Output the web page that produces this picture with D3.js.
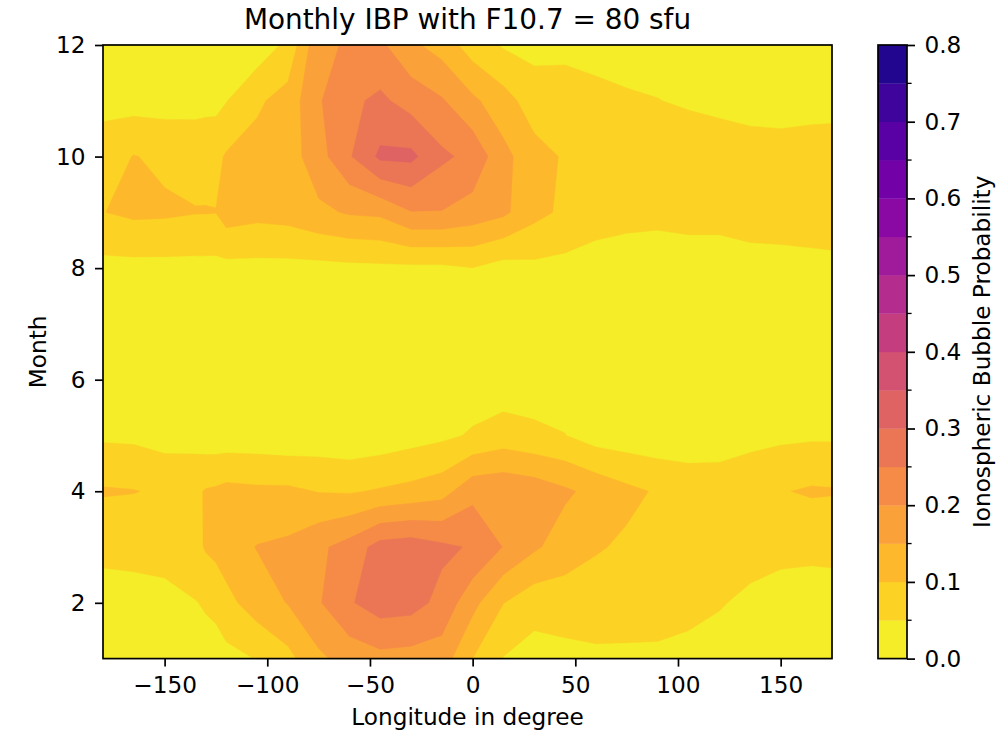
<!DOCTYPE html>
<html>
<head>
<meta charset="utf-8">
<script src="https://cdn.jsdelivr.net/npm/d3@7"></script>
<style>
  body { margin: 0; background: #fff; }
  text { font-family: "DejaVu Sans", sans-serif; fill: #000; }
</style>
</head>
<body>
<div id="chart"></div>
<script>
// grid: longitude columns (deg) and months (rows)
const lons = [-180, -165, -150, -135, -130, -125, -120, -105, -90, -75, -60, -45, -30, -15,
              0, 15, 30, 45, 60, 75, 90, 105, 120, 135, 150, 165, 175];
const months = [1, 2, 3, 4, 5, 6, 7, 8, 9, 10, 11, 12];

// bubble probability, one row per month, one value per longitude
const ibp = [
  [0.030, 0.028, 0.028, 0.028, 0.030, 0.030, 0.035, 0.052, 0.085, 0.140, 0.170, 0.185, 0.180, 0.175, 0.100, 0.048, 0.030, 0.035, 0.042, 0.042, 0.042, 0.040, 0.033, 0.032, 0.030, 0.030, 0.030],
  [0.040, 0.040, 0.042, 0.048, 0.055, 0.062, 0.085, 0.125, 0.152, 0.195, 0.245, 0.275, 0.270, 0.235, 0.165, 0.101, 0.070, 0.075, 0.072, 0.070, 0.068, 0.060, 0.053, 0.042, 0.038, 0.038, 0.040],
  [0.056, 0.058, 0.060, 0.085, 0.105, 0.115, 0.125, 0.152, 0.160, 0.190, 0.220, 0.270, 0.278, 0.260, 0.245, 0.198, 0.158, 0.125, 0.105, 0.092, 0.085, 0.075, 0.072, 0.065, 0.058, 0.056, 0.056],
  [0.105, 0.102, 0.092, 0.090, 0.104, 0.108, 0.115, 0.110, 0.110, 0.098, 0.095, 0.105, 0.115, 0.130, 0.185, 0.190, 0.180, 0.158, 0.135, 0.112, 0.095, 0.080, 0.080, 0.088, 0.097, 0.106, 0.104],
  [0.042, 0.040, 0.030, 0.030, 0.022, 0.020, 0.020, 0.020, 0.015, 0.020, 0.015, 0.020, 0.030, 0.040, 0.055, 0.072, 0.060, 0.051, 0.028, 0.022, 0.018, 0.020, 0.022, 0.033, 0.040, 0.043, 0.043],
  [0.028, 0.028, 0.026, 0.025, 0.025, 0.024, 0.024, 0.024, 0.022, 0.022, 0.022, 0.022, 0.022, 0.024, 0.025, 0.020, 0.025, 0.028, 0.024, 0.022, 0.020, 0.022, 0.024, 0.026, 0.028, 0.028, 0.028],
  [0.025, 0.025, 0.024, 0.024, 0.024, 0.024, 0.024, 0.024, 0.024, 0.024, 0.024, 0.024, 0.024, 0.024, 0.025, 0.025, 0.025, 0.025, 0.024, 0.022, 0.020, 0.020, 0.022, 0.024, 0.025, 0.025, 0.025],
  [0.035, 0.035, 0.035, 0.035, 0.035, 0.035, 0.035, 0.035, 0.035, 0.035, 0.038, 0.040, 0.040, 0.040, 0.049, 0.030, 0.038, 0.035, 0.025, 0.020, 0.018, 0.020, 0.020, 0.026, 0.028, 0.030, 0.030],
  [0.099, 0.110, 0.108, 0.102, 0.102, 0.101, 0.125, 0.115, 0.120, 0.140, 0.155, 0.160, 0.198, 0.198, 0.180, 0.160, 0.115, 0.090, 0.075, 0.068, 0.065, 0.070, 0.070, 0.078, 0.080, 0.085, 0.092],
  [0.075, 0.102, 0.090, 0.085, 0.086, 0.088, 0.105, 0.118, 0.125, 0.180, 0.245, 0.310, 0.312, 0.260, 0.235, 0.165, 0.118, 0.095, 0.085, 0.082, 0.078, 0.075, 0.072, 0.068, 0.068, 0.070, 0.072],
  [0.035, 0.030, 0.030, 0.032, 0.035, 0.035, 0.048, 0.092, 0.120, 0.195, 0.240, 0.260, 0.230, 0.205, 0.160, 0.120, 0.075, 0.068, 0.062, 0.056, 0.051, 0.045, 0.040, 0.035, 0.032, 0.035, 0.035],
  [0.030, 0.030, 0.020, 0.025, 0.025, 0.025, 0.025, 0.020, 0.061, 0.190, 0.205, 0.210, 0.160, 0.130, 0.075, 0.045, 0.035, 0.040, 0.035, 0.030, 0.032, 0.030, 0.027, 0.026, 0.027, 0.028, 0.030]
];

// contour levels and tick labels
const levels = d3.range(17).map(i => +(i * 0.05).toFixed(2));
const cbarTicks = [0, 0.1, 0.2, 0.3, 0.4, 0.5, 0.6, 0.7, 0.8];
const xTicks = [-150, -100, -50, 0, 50, 100, 150];
const yTicks = [2, 4, 6, 8, 10, 12];

//set variables
const w = 1004;
const h = 731;
const pl = 103, pr = 832, pt = 45, pb = 658.6;
const cbx = 878, cbw = 29;
const fs = '23.2px';
const tk = 8;            // tick length
const tp = 9.5;          // tick label pad

const svg = d3.select('#chart')
  .append('svg')
  .attr('width', w)
  .attr('height', h);

const xScale = d3.scaleLinear().domain([-180, 175]).range([pl, pr]);
const yScale = d3.scaleLinear().domain([1, 12]).range([pb, pt]);
const color = v => d3.interpolatePlasma(1 - v / 0.8);

// grid index -> lon / month (contour coords have grid points at i + 0.5)
const idxLon = d3.scaleLinear().domain(d3.range(lons.length)).range(lons).clamp(true);
const idxMonth = d3.scaleLinear().domain(d3.range(months.length)).range(months).clamp(true);

const proj = d3.geoTransform({
  point: function(x, y) {
    this.stream.point(xScale(idxLon(x - 0.5)), yScale(idxMonth(y - 0.5)));
  }
});
const path = d3.geoPath(proj);

const flat = ibp.flat();
const bands = d3.contours()
  .size([lons.length, months.length])
  .thresholds(levels.slice(0, -1))(flat);

//filled contours
svg.append('g')
  .selectAll('path')
  .data(bands)
  .join('path')
  .attr('d', path)
  .attr('fill', d => color(d.value + 0.025))
  .attr('stroke', d => color(d.value + 0.025))
  .attr('stroke-width', 0.4);

//axes
const xAxis = d3.axisBottom(xScale).tickValues(xTicks).tickSize(tk).tickPadding(tp);
const yAxis = d3.axisLeft(yScale).tickValues(yTicks).tickSize(tk).tickPadding(tp);

const gx = svg.append('g')
  .attr('transform', `translate(0,${pb})`)
  .call(xAxis);
const gy = svg.append('g')
  .attr('transform', `translate(${pl},0)`)
  .call(yAxis);
[gx, gy].forEach(g => {
  g.select('.domain').remove();
  g.selectAll('line').attr('stroke', '#000').attr('stroke-width', 1.7);
  g.selectAll('text').style('font-size', fs).style('font-family', '"DejaVu Sans", sans-serif');
});

//frame
svg.append('rect')
  .attr('x', pl).attr('y', pt)
  .attr('width', pr - pl).attr('height', pb - pt)
  .attr('fill', 'none').attr('stroke', '#000').attr('stroke-width', 1.7);

//title and labels
svg.append('text')
  .attr('x', (pl + pr) / 2)
  .attr('y', 29)
  .attr('text-anchor', 'middle')
  .style('font-size', '27.9px')
  .text('Monthly IBP with F10.7 = 80 sfu');

svg.append('text')
  .attr('x', (pl + pr) / 2)
  .attr('y', 725)
  .attr('text-anchor', 'middle')
  .style('font-size', fs)
  .text('Longitude in degree');

svg.append('text')
  .attr('transform', `translate(46,${(pt + pb) / 2}) rotate(-90)`)
  .attr('text-anchor', 'middle')
  .style('font-size', fs)
  .text('Month');

//colorbar
const cScale = d3.scaleLinear().domain([0, 0.8]).range([pb, pt]);
const cb = svg.append('g');
cb.selectAll('rect')
  .data(levels.slice(0, -1))
  .join('rect')
  .attr('x', cbx)
  .attr('width', cbw)
  .attr('y', d => cScale(d + 0.05))
  .attr('height', d => cScale(d) - cScale(d + 0.05) + 0.3)
  .attr('fill', d => color(d + 0.025));

cb.append('rect')
  .attr('x', cbx).attr('y', pt)
  .attr('width', cbw).attr('height', pb - pt)
  .attr('fill', 'none').attr('stroke', '#000').attr('stroke-width', 1.7);

const gc = svg.append('g')
  .attr('transform', `translate(${cbx + cbw},0)`)
  .call(d3.axisRight(cScale).tickValues(cbarTicks).tickFormat(d3.format('.1f')).tickSize(tk).tickPadding(tp));
gc.select('.domain').remove();
gc.selectAll('line').attr('stroke', '#000').attr('stroke-width', 1.7);
gc.selectAll('text').style('font-size', fs).style('font-family', '"DejaVu Sans", sans-serif');

// minor ticks
svg.append('g')
  .selectAll('line')
  .data(levels.filter((d, i) => i % 2 === 1))
  .join('line')
  .attr('x1', cbx + cbw).attr('x2', cbx + cbw + 4.6)
  .attr('y1', d => cScale(d)).attr('y2', d => cScale(d))
  .attr('stroke', '#000').attr('stroke-width', 1.3);

svg.append('text')
  .attr('transform', `translate(990,${(pt + pb) / 2}) rotate(-90)`)
  .attr('text-anchor', 'middle')
  .style('font-size', fs)
  .text('Ionospheric Bubble Probability');
</script>
</body>
</html>
